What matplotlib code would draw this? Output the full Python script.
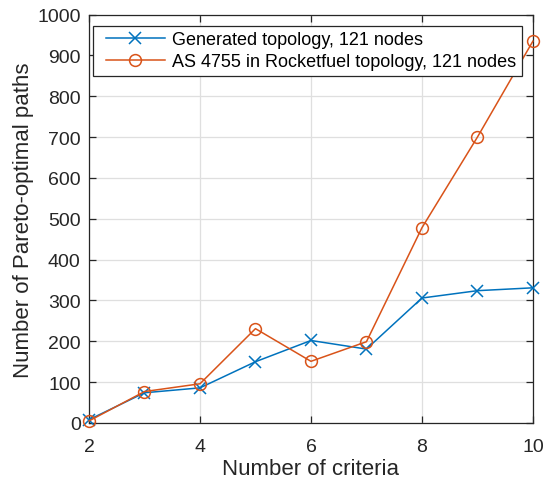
import matplotlib
matplotlib.use("Agg")
import matplotlib.pyplot as plt
from matplotlib.lines import Line2D
from matplotlib.legend_handler import HandlerLine2D

criteria = [2, 3, 4, 5, 6, 7, 8, 9, 10]
generated = [8, 74, 86, 150, 202, 181, 306, 324, 331]
rocketfuel = [5, 77, 96, 231, 151, 199, 478, 700, 935]
series_labels = ["Generated topology, 121 nodes",
                 "AS 4755 in Rocketfuel topology, 121 nodes"]

plt.rcParams["font.family"] = ["Liberation Sans", "DejaVu Sans"]
dark = "#262626"

fig = plt.figure(figsize=(5.46, 4.85), dpi=100)
ax = fig.add_axes([0.163, 0.1258, 0.813, 0.842])

ax.plot(criteria, generated, color="#0072BD", marker="x", markersize=9,
        markeredgewidth=1.1, linewidth=1.1, label=series_labels[0],
        clip_on=False, zorder=3)
ax.plot(criteria, rocketfuel, color="#D95319", marker="o", markersize=8.5,
        markerfacecolor="none", markeredgewidth=1.1, linewidth=1.1,
        label=series_labels[1], clip_on=False, zorder=3)

ax.set_xlim(2, 10)
ax.set_ylim(0, 1000)
ax.set_xticks([2, 4, 6, 8, 10])
ax.set_yticks(range(0, 1001, 100))
ax.grid(True, color="#dfdfdf", linewidth=0.9)
ax.set_axisbelow(True)
ax.tick_params(direction="in", top=True, right=True, length=5, width=0.9,
               colors=dark, labelsize=14)
ax.tick_params(axis="x", pad=11)
ax.tick_params(axis="y", pad=6)
for s in ax.spines.values():
    s.set_color(dark)
    s.set_linewidth(0.9)

ax.set_xlabel("Number of criteria", fontsize=16, color=dark, labelpad=2)
ax.set_ylabel("Number of Pareto-optimal paths", fontsize=16, color=dark, labelpad=2)

# legend handles inset from the frame edge
leg = ax.legend(loc="upper left", bbox_to_anchor=(0.009, 0.973), fontsize=13,
                frameon=True, fancybox=False, edgecolor=dark, framealpha=1,
                handlelength=3.7, handletextpad=0.4, borderpad=0.3,
                labelspacing=0.3, borderaxespad=0,
                handler_map={Line2D: HandlerLine2D(xpad=0.4)})
leg.get_frame().set_linewidth(0.9)
for t in leg.get_texts():
    t.set_color("#000000")

fig.savefig("out.png", dpi=100)
